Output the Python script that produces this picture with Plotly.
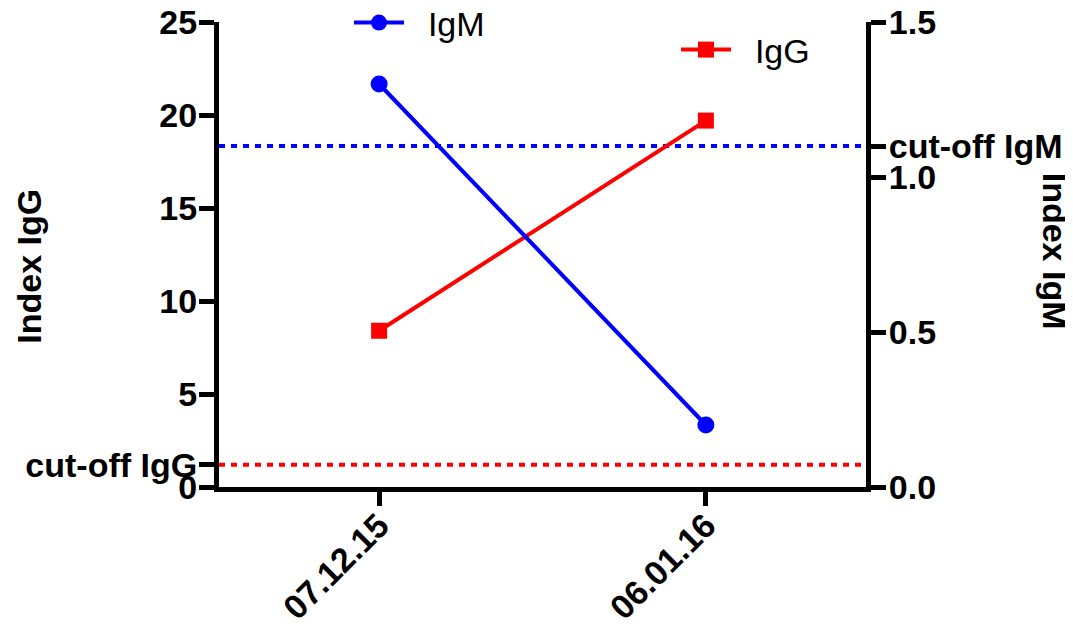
import plotly.graph_objects as go

dates = ["07.12.15", "06.01.16"]
igm = [1.3, 0.2]
igg = [8.4, 19.7]
cutoff_igm = 1.1
cutoff_igg = 1.2
igg_ticks = [0, cutoff_igg, 5, 10, 15, 20, 25]
igg_ticktext = ["0", "cut-off IgG", "5", "10", "15", "20", "25"]
igm_ticks = [0, 0.5, 1.0, cutoff_igm, 1.5]
igm_ticktext = ["0.0", "0.5", "1.0", "cut-off IgM", "1.5"]

FONT = "Liberation Sans, Arial, sans-serif"
BLUE = "#0000FF"
RED = "#FF0000"
NBSP = "\u00a0"

W, H = 1073, 626
OFF = 8  # page body margin: figure pixels = screen pixels - OFF
L, T = 218.5 - OFF, 21.7 - OFF
R = W - (866.5 - OFF)
B = H - (487.5 - OFF)
PW, PH = W - L - R, H - T - B


def cx(p):
    return (p - OFF) / W


def cy(p):
    return 1 - (p - OFF) / H


def px_x(p):
    return (p - OFF - L) / PW


def px_y(p):
    return (H - B - (p - OFF)) / PH


fig = go.Figure()
fig.add_trace(go.Scatter(
    x=dates, y=igm, name=NBSP * 2 + "IgM", yaxis="y2", mode="lines+markers",
    line=dict(color=BLUE, width=4), marker=dict(symbol="circle", size=17, color=BLUE),
    legend="legend", showlegend=True,
))
fig.add_trace(go.Scatter(
    x=dates, y=igg, name=NBSP * 2 + "IgG", yaxis="y", mode="lines+markers",
    line=dict(color=RED, width=4), marker=dict(symbol="square", size=16, color=RED),
    legend="legend2", showlegend=True,
))

fig.add_shape(type="line", xref="paper", x0=0, x1=1, yref="y2", y0=cutoff_igm, y1=cutoff_igm,
              line=dict(color=BLUE, width=4, dash="6px,6px"), layer="below")
fig.add_shape(type="line", xref="paper", x0=0, x1=1, yref="y", y0=cutoff_igg, y1=cutoff_igg,
              line=dict(color=RED, width=4, dash="6px,6px"), layer="below")

axis_common = dict(
    showline=True, linewidth=5, linecolor="black", ticks="outside", tickwidth=5,
    tickcolor="black", showgrid=False, zeroline=False, automargin=False,
    ticklabeloverflow="allow",
    tickfont=dict(family=FONT, size=34, color="black", weight="bold"),
)

legend_common = dict(xref="container", yref="container", xanchor="left", yanchor="middle",
                     bgcolor="rgba(0,0,0,0)", itemwidth=50,
                     font=dict(family=FONT, size=34, color="black"))

fig.update_layout(
    width=W, height=H,
    showlegend=True,
    margin=dict(l=L, r=R, t=T, b=B, autoexpand=False),
    plot_bgcolor="white", paper_bgcolor="white",
    xaxis=dict(type="category", range=[-0.49, 1.49], tickangle=-45, ticklen=14,
               ticklabelstandoff=-14, **axis_common),
    yaxis=dict(range=[0, 25.0001], tickmode="array", tickvals=igg_ticks, ticktext=igg_ticktext,
               ticklen=15, ticklabelstandoff=-5, **axis_common),
    yaxis2=dict(range=[0, 1.500006], overlaying="y", side="right", tickmode="array",
                tickvals=igm_ticks, ticktext=igm_ticktext, ticklen=15, ticklabelstandoff=-4,
                **axis_common),
    legend=dict(x=cx(379 - 30), y=cy(23), **legend_common),
    legend2=dict(x=cx(706 - 30), y=cy(50), **legend_common),
    annotations=[
        dict(text="Index IgG", xref="paper", yref="paper", x=px_x(28), y=px_y(266),
             xanchor="center", yanchor="middle", textangle=-90, showarrow=False,
             font=dict(family=FONT, size=34, color="black", weight="bold")),
        dict(text="Index IgM", xref="paper", yref="paper", x=px_x(1056), y=px_y(251),
             xanchor="center", yanchor="middle", textangle=90, showarrow=False,
             font=dict(family=FONT, size=34, color="black", weight="bold")),
    ],
)

fig.write_html("out.html")
